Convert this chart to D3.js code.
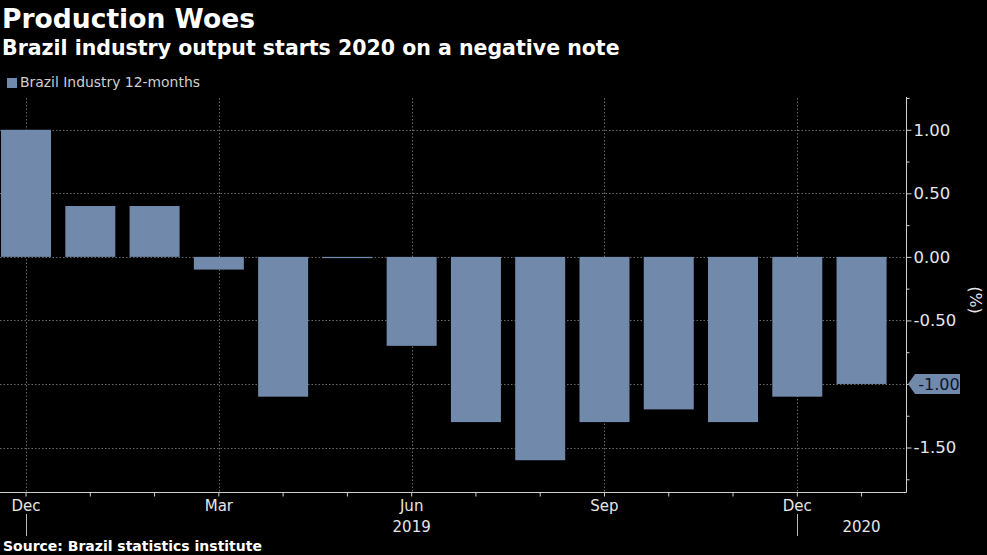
<!DOCTYPE html>
<html>
<head>
<meta charset="utf-8">
<script src="https://cdn.jsdelivr.net/npm/d3@7/dist/d3.min.js"></script>
<style>
  html, body { margin: 0; padding: 0; background: #000; }
  svg { display: block; }
</style>
</head>
<body>
<svg id="chart" width="987" height="555"></svg>
<script>
// ---- data ----
const months = ["2018-12","2019-01","2019-02","2019-03","2019-04","2019-05","2019-06",
                "2019-07","2019-08","2019-09","2019-10","2019-11","2019-12","2020-01"];
const values = [1.0, 0.4, 0.4, -0.1, -1.1, -0.01, -0.7, -1.3, -1.6, -1.3, -1.2, -1.3, -1.1, -1.0];
const monthLabels = {"2018-12":"Dec","2019-03":"Mar","2019-06":"Jun","2019-09":"Sep","2019-12":"Dec"};
const yearLabels = [{at:"2019-06", text:"2019"}, {at:"2020-01", text:"2020"}];
const yearSeparators = ["2018-12","2019-12"];
const yTicks = [1.0, 0.5, 0.0, -0.5, -1.0, -1.5];
const yMinorTicks = [1.25, 0.75, 0.25, -0.25, -0.75, -1.25, -1.75];
const seriesName = "Brazil Industry 12-months";
const title = "Production Woes";
const subtitle = "Brazil industry output starts 2020 on a negative note";
const source = "Source: Brazil statistics institute";

// ---- layout ----
const W = 987, H = 555;
const plotLeft = 0, plotRight = 906, plotTop = 98, plotBottom = 492;
const barColor = "#7189ab";
const textColor = "#e6e6e6";
const gridColor = "#6a6a6a";
const FONT = "DejaVu Sans, Verdana, sans-serif";

const svg = d3.select("#chart");
svg.append("rect").attr("width", W).attr("height", H).attr("fill", "#000");

// fit a text's font-size so that its width matches a target width
function fitWidth(sel, target) {
  const fs = +sel.attr("font-size");
  const w = sel.node().getComputedTextLength();
  if (w > 0) sel.attr("font-size", (fs * target / w).toFixed(2));
  return sel;
}

const x = d3.scaleBand().domain(months).range([-6.1, 893.7])
  .paddingInner(0.222).paddingOuter(0.111);
const y = d3.scaleLinear().domain([-1.85, 1.25]).range([plotBottom, plotTop]);
const cx = m => x(m) + x.bandwidth() / 2;

// titles
fitWidth(svg.append("text").attr("x", 2).attr("y", 28)
  .attr("font-family", FONT).attr("font-weight", 700)
  .attr("font-size", 26).attr("fill", "#fff").text(title), 253);
fitWidth(svg.append("text").attr("x", 2).attr("y", 55)
  .attr("font-family", FONT).attr("font-weight", 700)
  .attr("font-size", 19).attr("fill", "#fff").text(subtitle), 618);

// legend
svg.append("rect").attr("x", 7).attr("y", 78).attr("width", 10).attr("height", 10).attr("fill", barColor);
fitWidth(svg.append("text").attr("x", 20).attr("y", 87)
  .attr("font-family", FONT).attr("font-size", 13.5)
  .attr("fill", "#cfcfcf").text(seriesName), 180);

// grid: horizontal
svg.append("g").selectAll("line").data(yTicks).join("line")
  .attr("x1", plotLeft).attr("x2", plotRight)
  .attr("y1", d => Math.round(y(d)) + 0.5).attr("y2", d => Math.round(y(d)) + 0.5)
  .attr("stroke", gridColor).attr("stroke-width", 1).attr("stroke-dasharray", "1.5,2");
// grid: vertical at labelled months
svg.append("g").selectAll("line").data(Object.keys(monthLabels)).join("line")
  .attr("x1", d => Math.round(cx(d)) + 0.5).attr("x2", d => Math.round(cx(d)) + 0.5)
  .attr("y1", plotTop).attr("y2", plotBottom)
  .attr("stroke", gridColor).attr("stroke-width", 1).attr("stroke-dasharray", "1.5,2");

// bars
svg.append("g").selectAll("rect").data(months).join("rect")
  .attr("x", d => x(d))
  .attr("width", x.bandwidth())
  .attr("y", (d, i) => y(Math.max(0, values[i])))
  .attr("height", (d, i) => Math.abs(y(values[i]) - y(0)))
  .attr("fill", barColor);

const lastVal = values[values.length - 1];
const fmt = v => d3.format(".2f")(v).replace("−", "-");

// right axis (the tick label under the last-value callout is hidden by it)
const yAxis = d3.axisRight(y).tickValues(yTicks)
  .tickFormat(d => Math.abs(d - lastVal) < 1e-9 ? "" : fmt(d))
  .tickSize(5).tickPadding(2);
const gy = svg.append("g").attr("transform", `translate(${plotRight + 0.5},0)`).call(yAxis);
gy.select(".domain").attr("stroke", "#d0d0d0").attr("d", `M0,${plotTop - 1}V${plotBottom + 0.5}`);
gy.selectAll(".tick line").attr("stroke", "#d0d0d0");
gy.selectAll(".tick text").attr("fill", textColor).attr("font-family", FONT)
  .attr("font-size", 16.5);
const yMinor = d3.axisRight(y).tickValues(yMinorTicks).tickFormat("").tickSize(3);
const gym = svg.append("g").attr("transform", `translate(${plotRight + 0.5},0)`).call(yMinor);
gym.select(".domain").remove();
gym.selectAll(".tick line").attr("stroke", "#d0d0d0");

// unit label
svg.append("text").attr("transform", "translate(970,300) rotate(90)")
  .attr("text-anchor", "middle").attr("font-family", FONT)
  .attr("font-size", 16).attr("fill", textColor).text("(%)");

// bottom axis
const xAxis = d3.axisBottom(x).tickSize(4).tickFormat(d => monthLabels[d] || "").tickPadding(3);
const gx = svg.append("g").attr("transform", `translate(0,${plotBottom + 0.5})`).call(xAxis);
gx.select(".domain").attr("stroke", "#d0d0d0").attr("d", `M${plotLeft},0H${plotRight + 0.5}`);
gx.selectAll(".tick line").attr("stroke", "#d0d0d0");
gx.selectAll(".tick text").attr("fill", textColor).attr("font-family", FONT)
  .attr("font-size", 15).attr("dy", "0.75em");

// year labels and separators
svg.append("g").selectAll("text").data(yearLabels).join("text")
  .attr("x", d => cx(d.at)).attr("y", 532).attr("text-anchor", "middle")
  .attr("font-family", FONT).attr("font-size", 15)
  .attr("fill", textColor).text(d => d.text);
svg.append("g").selectAll("line").data(yearSeparators).join("line")
  .attr("x1", d => Math.round(cx(d)) + 0.5).attr("x2", d => Math.round(cx(d)) + 0.5)
  .attr("y1", 514).attr("y2", 536).attr("stroke", "#bbbbbb").attr("stroke-width", 1);

// last value callout
const ly = y(lastVal);
const bx = plotRight + 2;
svg.append("path")
  .attr("d", `M${bx},${ly} L${bx + 7},${ly - 10} H${bx + 52} V${ly + 10} H${bx + 7} Z`)
  .attr("fill", barColor);
svg.append("text").attr("x", bx + 31).attr("y", ly + 6).attr("text-anchor", "middle")
  .attr("font-family", FONT).attr("font-size", 16)
  .attr("fill", "#0b1628").text(fmt(lastVal));

// source
fitWidth(svg.append("text").attr("x", 3).attr("y", 551)
  .attr("font-family", FONT).attr("font-weight", 700)
  .attr("font-size", 14).attr("fill", "#fff").text(source), 259);
</script>
</body>
</html>
